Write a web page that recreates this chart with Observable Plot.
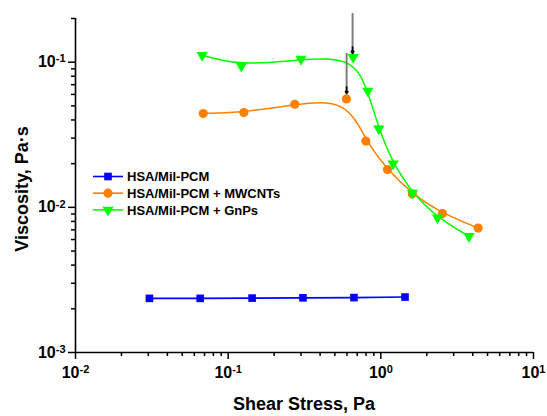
<!DOCTYPE html>
<html>
<head>
<meta charset="utf-8">
<script src="https://cdn.jsdelivr.net/npm/d3@7"></script>
<script src="https://cdn.jsdelivr.net/npm/@observablehq/plot@0.6"></script>
<style>
  html, body { margin: 0; padding: 0; background: #fff; }
  #chart { width: 547px; height: 416px; }
</style>
</head>
<body>
<div id="chart"></div>
<script>
// ---- Data ----
const seriesNames = ["HSA/Mil-PCM", "HSA/Mil-PCM + MWCNTs", "HSA/Mil-PCM + GnPs"];
const seriesColors = ["#0000ff", "#ff8000", "#00ff00"];

const blueX = [0.0305, 0.0656, 0.1435, 0.309, 0.667, 1.44];
const blueY = [0.00236, 0.00236, 0.00237, 0.00238, 0.00239, 0.00241];

const orangeX = [0.0687, 0.1266, 0.273, 0.595, 0.798, 1.106, 1.607, 2.53, 4.34];
const orangeY = [0.0443, 0.0450, 0.0513, 0.0558, 0.0286, 0.0182, 0.0124, 0.00906, 0.00720];

const greenX = [0.0676, 0.122, 0.300, 0.659, 0.822, 0.970, 1.203, 1.61, 2.35, 3.78];
const greenY = [0.1117, 0.0943, 0.105, 0.1083, 0.0634, 0.0348, 0.0200, 0.01256, 0.00849, 0.00631];

// annotation arrows (data coordinates)
const arrowX = [0.653, 0.597];
const arrowYStart = [0.218, 0.116];
const arrowYHead = [0.127, 0.0673];
const arrowYEnd = [0.1153, 0.0611];

const xMajorTicks = [0.01, 0.1, 1, 10];
const yMajorTicks = [0.001, 0.01, 0.1];
const xDomain = [0.01, 10];
const yDomain = [0.001, 0.2];

// ---- Build tables ----
const zip = (xs, ys, s) => xs.map((x, i) => ({x, y: ys[i], s}));
const blue = zip(blueX, blueY, seriesNames[0]);
const orange = zip(orangeX, orangeY, seriesNames[1]);
const green = zip(greenX, greenY, seriesNames[2]);
const arrows = arrowX.map((x, i) => ({x, y1: arrowYStart[i], yh: arrowYHead[i], y2: arrowYEnd[i]}));

const minor = (lo, hi) => {
  const out = [];
  for (let d = -4; d <= 2; d++) for (let k = 2; k <= 9; k++) {
    const v = k * Math.pow(10, d);
    if (v >= lo * 0.999 && v <= hi * 1.001) out.push(v);
  }
  return out;
};
const xMinor = minor(...xDomain);
const yMinor = minor(...yDomain);

const triangleDown = {
  draw(context, size) {
    const h = Math.sqrt(size / (3 * Math.sqrt(3)));
    context.moveTo(0, 2 * h);
    context.lineTo(Math.sqrt(3) * h, -h);
    context.lineTo(-Math.sqrt(3) * h, -h);
    context.closePath();
  }
};

const fmt = d => "10^" + Math.round(Math.log10(d));
const FONT = "'Liberation Sans', Arial, Helvetica, sans-serif";

const plot = Plot.plot({
  width: 547,
  height: 416,
  marginLeft: 75,
  marginRight: 14,
  marginTop: 18,
  marginBottom: 64,
  style: {fontFamily: FONT, background: "white", overflow: "visible"},
  x: {type: "log", domain: xDomain},
  y: {type: "log", domain: yDomain},
  marks: [
    Plot.axisX({ticks: xMinor, tickSize: 4, tickFormat: () => "", strokeWidth: 1.5, label: null}),
    Plot.axisY({ticks: yMinor, tickSize: 4, tickFormat: () => "", strokeWidth: 1.5, label: null}),
    Plot.axisX({ticks: xMajorTicks, tickSize: 7, tickPadding: 7, tickFormat: fmt, strokeWidth: 1.5,
      fontSize: 16, fontWeight: "bold", label: null}),
    Plot.axisY({ticks: yMajorTicks, tickSize: 7, tickPadding: 3, tickFormat: fmt, strokeWidth: 1.5,
      fontSize: 16, fontWeight: "bold", label: null}),
    Plot.ruleX([xDomain[0]], {stroke: "black", strokeWidth: 1.6}),
    Plot.ruleY([yDomain[0]], {stroke: "black", strokeWidth: 1.6}),
    Plot.line(blue, {x: "x", y: "y", stroke: seriesColors[0], strokeWidth: 1.6}),
    Plot.line(orange, {x: "x", y: "y", stroke: seriesColors[1], strokeWidth: 1.5, curve: "basis"}),
    Plot.line(green, {x: "x", y: "y", stroke: seriesColors[2], strokeWidth: 1.5, curve: "basis"}),
    Plot.dot(blue, {x: "x", y: "y", symbol: "square", r: 4.3, fill: seriesColors[0]}),
    Plot.dot(orange, {x: "x", y: "y", symbol: "circle", r: 4.6, fill: seriesColors[1]}),
    Plot.dot(green, {x: "x", y: "y", symbol: triangleDown, r: 4.2, fill: seriesColors[2]}),
    Plot.link(arrows, {x1: "x", x2: "x", y1: "y1", y2: "yh", stroke: "#7f7f7f", strokeWidth: 2}),
    Plot.arrow(arrows, {x1: "x", x2: "x", y1: "yh", y2: "y2", stroke: "black", strokeWidth: 2,
      headLength: 9, insetStart: 0, insetEnd: 0, bend: 0})
  ]
});

document.getElementById("chart").appendChild(plot);
const svg = d3.select(plot);

// superscript exponents on tick labels
svg.selectAll("text").each(function() {
  const t = this.textContent;
  if (/^10\^/.test(t)) {
    const exp = t.slice(3);
    const sel = d3.select(this);
    sel.text("");
    sel.append("tspan").text("10");
    sel.append("tspan").attr("dy", "-0.45em").attr("font-size", "11px").text(exp);
  }
});

// axis titles
svg.append("text")
  .attr("x", 304).attr("y", 410)
  .attr("text-anchor", "middle")
  .attr("font-family", FONT).attr("font-weight", "bold").attr("font-size", 18)
  .text("Shear Stress, Pa");
svg.append("text")
  .attr("transform", "translate(28,189) rotate(-90)")
  .attr("text-anchor", "middle")
  .attr("font-family", FONT).attr("font-weight", "bold").attr("font-size", 18)
  .text("Viscosity, Pa·s");

// legend
const legendSymbols = [d3.symbolSquare, d3.symbolCircle, triangleDown];
const legendSizes = [58, 66, 55];
const lg = svg.append("g");
seriesNames.forEach((name, i) => {
  const yy = 176.5 + i * 16.7;
  lg.append("line").attr("x1", 93).attr("x2", 123).attr("y1", yy).attr("y2", yy)
    .attr("stroke", seriesColors[i]).attr("stroke-width", 1.6);
  lg.append("path").attr("transform", `translate(108,${yy})`)
    .attr("d", d3.symbol(legendSymbols[i], legendSizes[i])())
    .attr("fill", seriesColors[i]);
  lg.append("text").attr("x", 127).attr("y", yy).attr("dy", "0.36em")
    .attr("text-anchor", "start")
    .attr("font-family", FONT).attr("font-weight", "bold").attr("font-size", 13)
    .text(name);
});
</script>
</body>
</html>
